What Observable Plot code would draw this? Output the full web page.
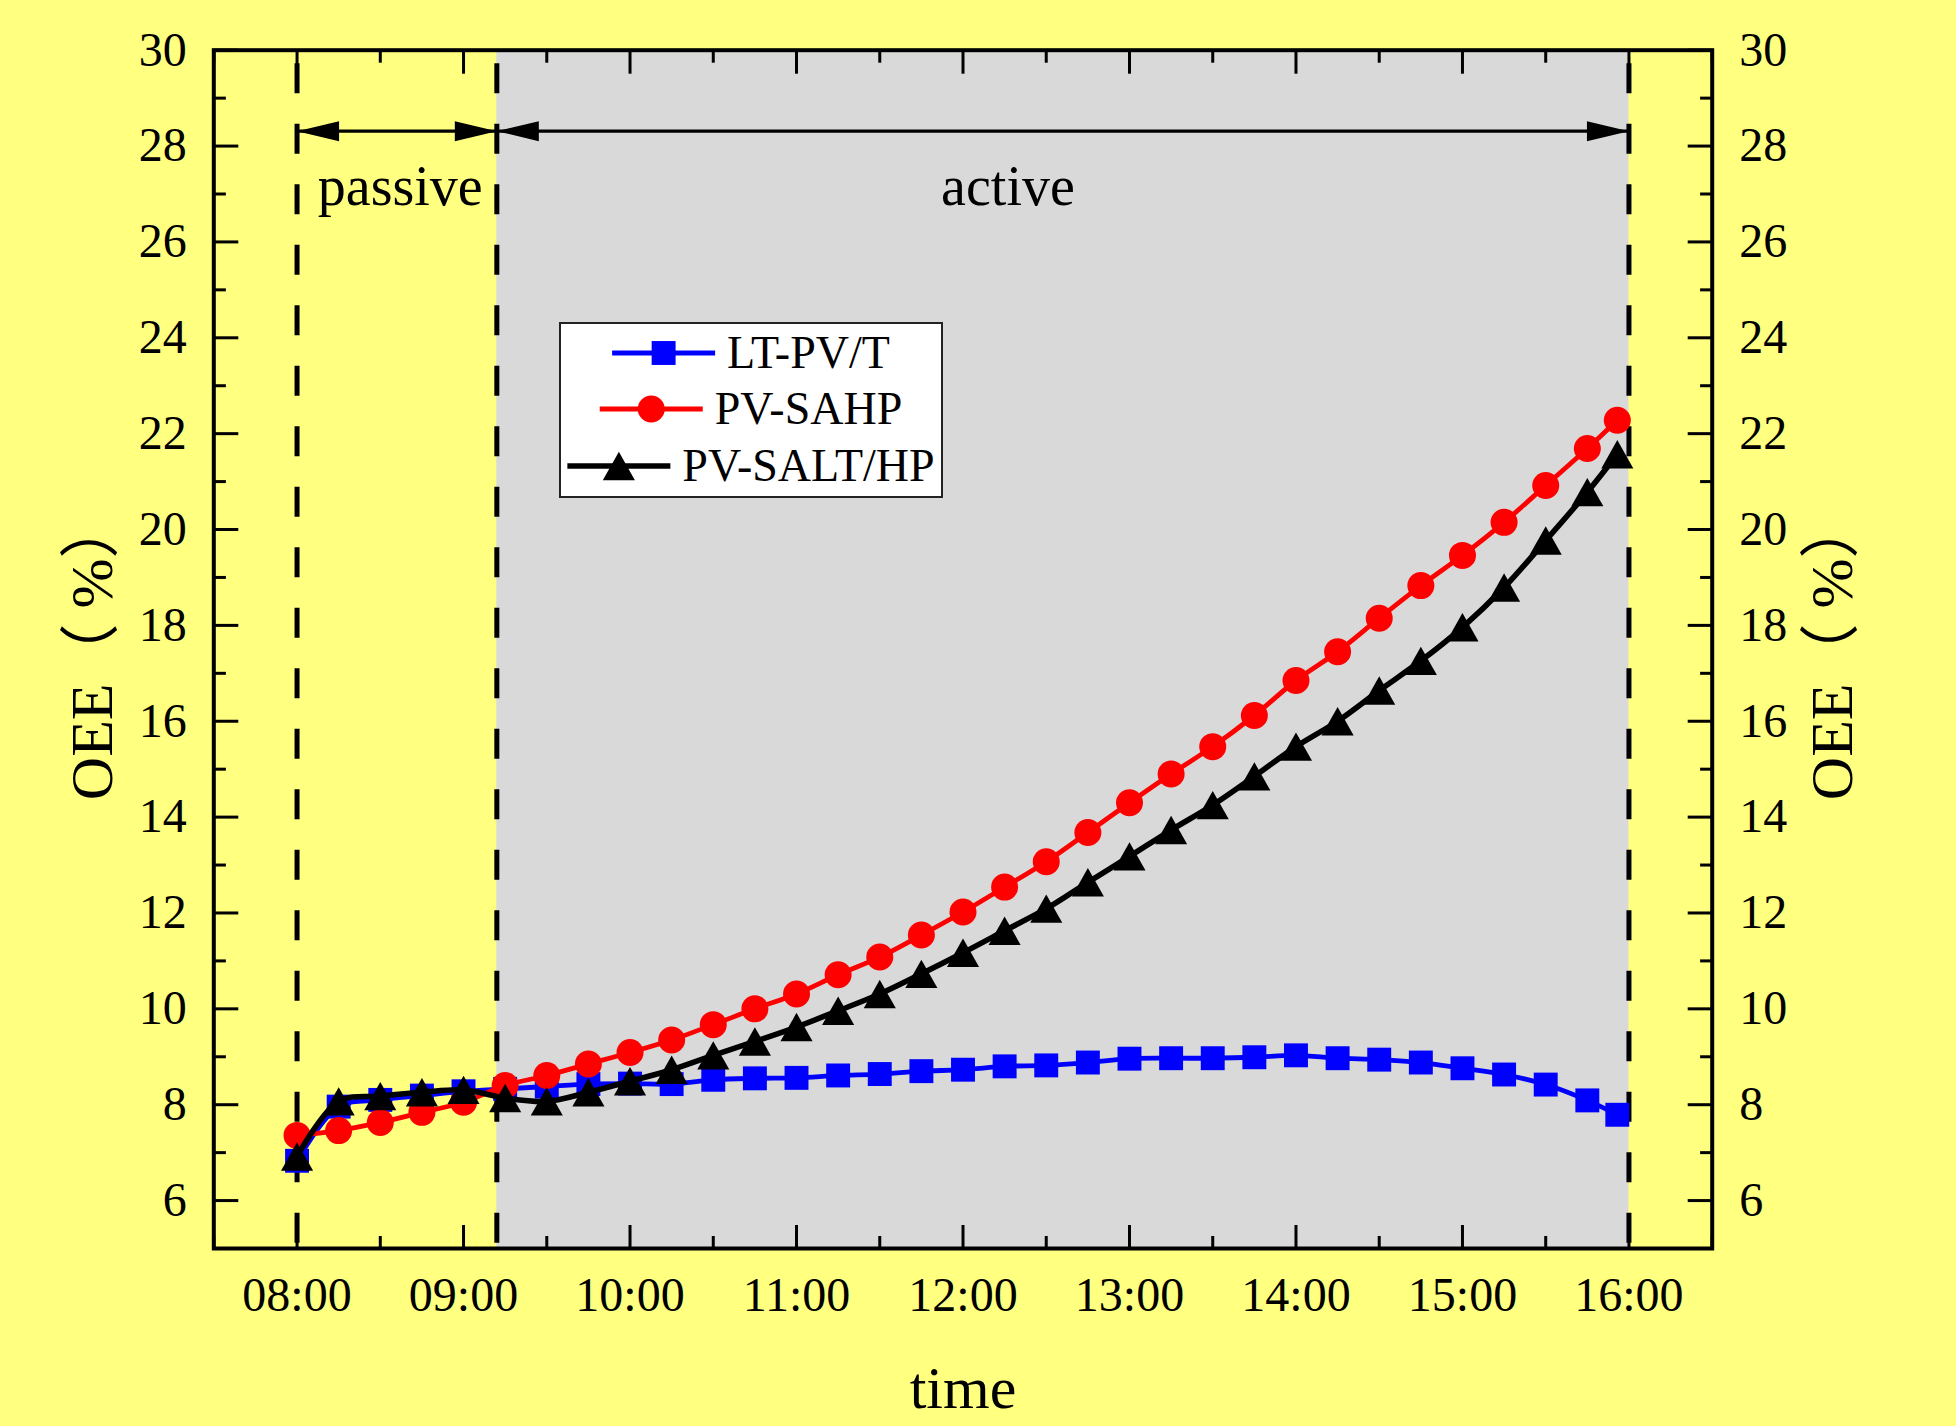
<!DOCTYPE html>
<html>
<head>
<meta charset="utf-8">
<script src="https://cdn.jsdelivr.net/npm/d3@7"></script>
<script src="https://cdn.jsdelivr.net/npm/@observablehq/plot@0.6"></script>
<style>
  html, body { margin: 0; padding: 0; background: #FFFF80; }
  #wrap { position: relative; width: 1956px; height: 1426px; overflow: hidden; }
  #legend { position: absolute; left: 559px; top: 322px; width: 384px; height: 176px;
            box-sizing: border-box; border: 2px solid #222; background: #FFFFFF; }
</style>
</head>
<body>
<div id="wrap"></div>
<script>
// ---------- data ----------
const times = [8, 8.25, 8.5, 8.75, 9, 9.25, 9.5, 9.75, 10, 10.25, 10.5, 10.75, 11, 11.25, 11.5, 11.75,
               12, 12.25, 12.5, 12.75, 13, 13.25, 13.5, 13.75, 14, 14.25, 14.5, 14.75, 15, 15.25, 15.5, 15.75, 15.93];
const ltpvt = [6.83, 7.96, 8.10, 8.19, 8.28, 8.33, 8.38, 8.43, 8.44, 8.43, 8.52, 8.55, 8.56, 8.61, 8.64, 8.70,
               8.73, 8.80, 8.82, 8.88, 8.96, 8.97, 8.97, 8.99, 9.03, 8.97, 8.94, 8.88, 8.76, 8.63, 8.42, 8.09, 7.79];
const pvsahp = [7.36, 7.46, 7.63, 7.84, 8.05, 8.40, 8.61, 8.85, 9.09, 9.35, 9.67, 10.00, 10.31, 10.71, 11.08, 11.54,
                12.02, 12.54, 13.07, 13.68, 14.30, 14.90, 15.47, 16.12, 16.85, 17.45, 18.15, 18.83, 19.46, 20.15, 20.92, 21.69, 22.28];
const pvsalthp = [6.92, 8.07, 8.18, 8.26, 8.31, 8.14, 8.07, 8.26, 8.49, 8.73, 9.03, 9.32, 9.62, 9.96, 10.31, 10.73,
                  11.17, 11.63, 12.09, 12.64, 13.18, 13.73, 14.25, 14.85, 15.47, 16.00, 16.64, 17.26, 17.96, 18.79, 19.77, 20.78, 21.57];
const seriesNames = ["LT-PV/T", "PV-SAHP", "PV-SALT/HP"];

const xMajorTicks = [8, 9, 10, 11, 12, 13, 14, 15, 16];
const xTickLabels = ["08:00", "09:00", "10:00", "11:00", "12:00", "13:00", "14:00", "15:00", "16:00"];
const xMinorTicks = [7.5, 8.5, 9.5, 10.5, 11.5, 12.5, 13.5, 14.5, 15.5, 16.5];
const yMajorTicks = [6, 8, 10, 12, 14, 16, 18, 20, 22, 24, 26, 28, 30];
const yMinorTicks = [5, 7, 9, 11, 13, 15, 17, 19, 21, 23, 25, 27, 29];

const phaseBounds = [8, 9.2, 16];
const phaseNames = ["passive", "active"];
const phaseLabelX = [8.62, 12.27];
const phaseLabelY = 27.15;
const arrowLevel = 28.31;

const xTitle = "time";
const yTitle = "OEE（ %）";

// ---------- styles ----------
const FONT = "'Liberation Serif','Times New Roman','Noto Sans CJK SC',serif";
const colors = ["#0000FF", "#FF0000", "#000000"];
const lineWidths = [4.8, 4.8, 5.6];

const triangleSym = {draw(ctx, size) { const r = Math.sqrt(size / Math.PI); const w = r * 1.13;
  ctx.moveTo(0, -r); ctx.lineTo(w, r); ctx.lineTo(-w, r); ctx.closePath(); }};
const arrowHeadSym = {draw(ctx, size) { const r = Math.sqrt(size / Math.PI);
  ctx.moveTo(0, 0); ctx.lineTo(-4.2 * r, -r); ctx.lineTo(-4.2 * r, r); ctx.closePath(); }};
const symbols = ["square", "circle", triangleSym];
const radii = [13.5, 13.5, 14.2];

const seriesValues = [ltpvt, pvsahp, pvsalthp];
const tables = seriesValues.map(vals => times.map((t, i) => ({t, v: vals[i]})));

const segments = phaseBounds.slice(0, -1).map((a, i) => ({a, b: phaseBounds[i + 1]}));
const heads = segments.flatMap(s => [{x: s.a, dir: 180}, {x: s.b, dir: 0}]);
const phaseLabels = phaseNames.map((n, i) => ({n, x: phaseLabelX[i]}));

const fmt = d => xTickLabels[xMajorTicks.indexOf(d)];
const blank = () => "";

const seriesMarks = tables.flatMap((tab, k) => [
  Plot.line(tab, {x: "t", y: "v", curve: "catmull-rom", stroke: colors[k], strokeWidth: lineWidths[k]}),
  Plot.dot(tab, {x: "t", y: "v", symbol: symbols[k], r: radii[k], fill: colors[k], stroke: "none"})
]);

const chart = Plot.plot({
  width: 1956, height: 1426,
  marginLeft: 213.3, marginRight: 244.3, marginTop: 49.7, marginBottom: 178,
  style: {background: "#FFFF80", fontFamily: FONT, color: "black"},
  x: {domain: [7.5, 16.5], axis: null},
  y: {domain: [5, 30], axis: null},
  marks: [
    Plot.rect([segments[1]], {x1: "a", x2: "b", fill: "#D9D9D9"}),
    Plot.ruleX(phaseBounds, {stroke: "black", strokeWidth: 5, strokeDasharray: "30,30.5", strokeDashoffset: 47}),
    Plot.link(segments, {x1: "a", x2: "b", y1: () => arrowLevel, y2: () => arrowLevel, stroke: "black", strokeWidth: 3.2}),
    Plot.dot(heads, {x: "x", y: () => arrowLevel, rotate: "dir", symbol: arrowHeadSym, r: 10, fill: "black", stroke: "none"}),
    Plot.text(phaseLabels, {x: "x", y: () => phaseLabelY, text: "n", fontSize: 56, lineAnchor: "middle", fill: "black"}),
    ...seriesMarks,
    // ticks (inward)
    Plot.axisX(xMajorTicks, {anchor: "bottom", tickSize: -23, strokeWidth: 3, tickFormat: blank, label: null}),
    Plot.axisX(xMinorTicks, {anchor: "bottom", tickSize: -12, strokeWidth: 3, tickFormat: blank, label: null}),
    Plot.axisX(xMajorTicks, {anchor: "top", tickSize: -23, strokeWidth: 3, tickFormat: blank, label: null}),
    Plot.axisX(xMinorTicks, {anchor: "top", tickSize: -12, strokeWidth: 3, tickFormat: blank, label: null}),
    Plot.axisY(yMajorTicks, {anchor: "left", tickSize: -25, strokeWidth: 3, tickFormat: blank, label: null}),
    Plot.axisY(yMinorTicks, {anchor: "left", tickSize: -12.6, strokeWidth: 3, tickFormat: blank, label: null}),
    Plot.axisY(yMajorTicks, {anchor: "right", tickSize: -25, strokeWidth: 3, tickFormat: blank, label: null}),
    Plot.axisY(yMinorTicks, {anchor: "right", tickSize: -12.6, strokeWidth: 3, tickFormat: blank, label: null}),
    // tick labels
    Plot.axisX(xMajorTicks, {anchor: "bottom", tickSize: 0, tickPadding: 28, tickFormat: fmt, fontSize: 48, label: null}),
    Plot.axisY(yMajorTicks, {anchor: "left", tickSize: 0, tickPadding: 27, fontSize: 48, label: null}),
    Plot.axisY(yMajorTicks, {anchor: "right", tickSize: 0, tickPadding: 27, fontSize: 48, label: null}),
    Plot.frame({stroke: "black", strokeWidth: 4}),
    // axis titles
    Plot.text([xTitle], {text: d => d, frameAnchor: "bottom", dy: 140, fontSize: 60, lineAnchor: "middle", fill: "black"}),
    Plot.text([yTitle], {text: d => d, frameAnchor: "left", dx: -121, dy: 0, rotate: -90, fontSize: 60, textAnchor: "middle", lineAnchor: "middle", fill: "black"}),
    Plot.text([yTitle], {text: d => d, frameAnchor: "right", dx: 121, dy: 0, rotate: -90, fontSize: 60, textAnchor: "middle", lineAnchor: "middle", fill: "black"})
  ]
});

const wrap = document.getElementById("wrap");
wrap.appendChild(chart);

// ---------- legend ----------
const legend = document.createElement("div");
legend.id = "legend";
wrap.appendChild(legend);
const lw = 380, lh = 172;
const lsvg = d3.select(legend).append("svg").attr("width", lw).attr("height", lh)
  .style("position", "absolute").style("left", "0px").style("top", "0px");
const rowY = [29, 85, 142];
const sampleLen = 103, gap = 12;
seriesNames.forEach((name, k) => {
  const g = lsvg.append("g");
  const txt = g.append("text").text(name).attr("font-family", FONT).attr("font-size", 46)
    .attr("fill", "black").attr("dy", "0.32em").attr("y", rowY[k]);
  const tw = txt.node().getComputedTextLength();
  const total = sampleLen + gap + tw;
  const x0 = (lw - total) / 2;
  txt.attr("x", x0 + sampleLen + gap);
  g.append("line").attr("x1", x0).attr("x2", x0 + sampleLen).attr("y1", rowY[k]).attr("y2", rowY[k])
    .attr("stroke", colors[k]).attr("stroke-width", lineWidths[k]);
  const sym = typeof symbols[k] === "string" ? (symbols[k] === "square" ? d3.symbolSquare : d3.symbolCircle) : symbols[k];
  g.append("path").attr("d", d3.symbol(sym, Math.PI * radii[k] * radii[k])())
    .attr("transform", `translate(${x0 + sampleLen / 2},${rowY[k]})`).attr("fill", colors[k]);
});
</script>
</body>
</html>
